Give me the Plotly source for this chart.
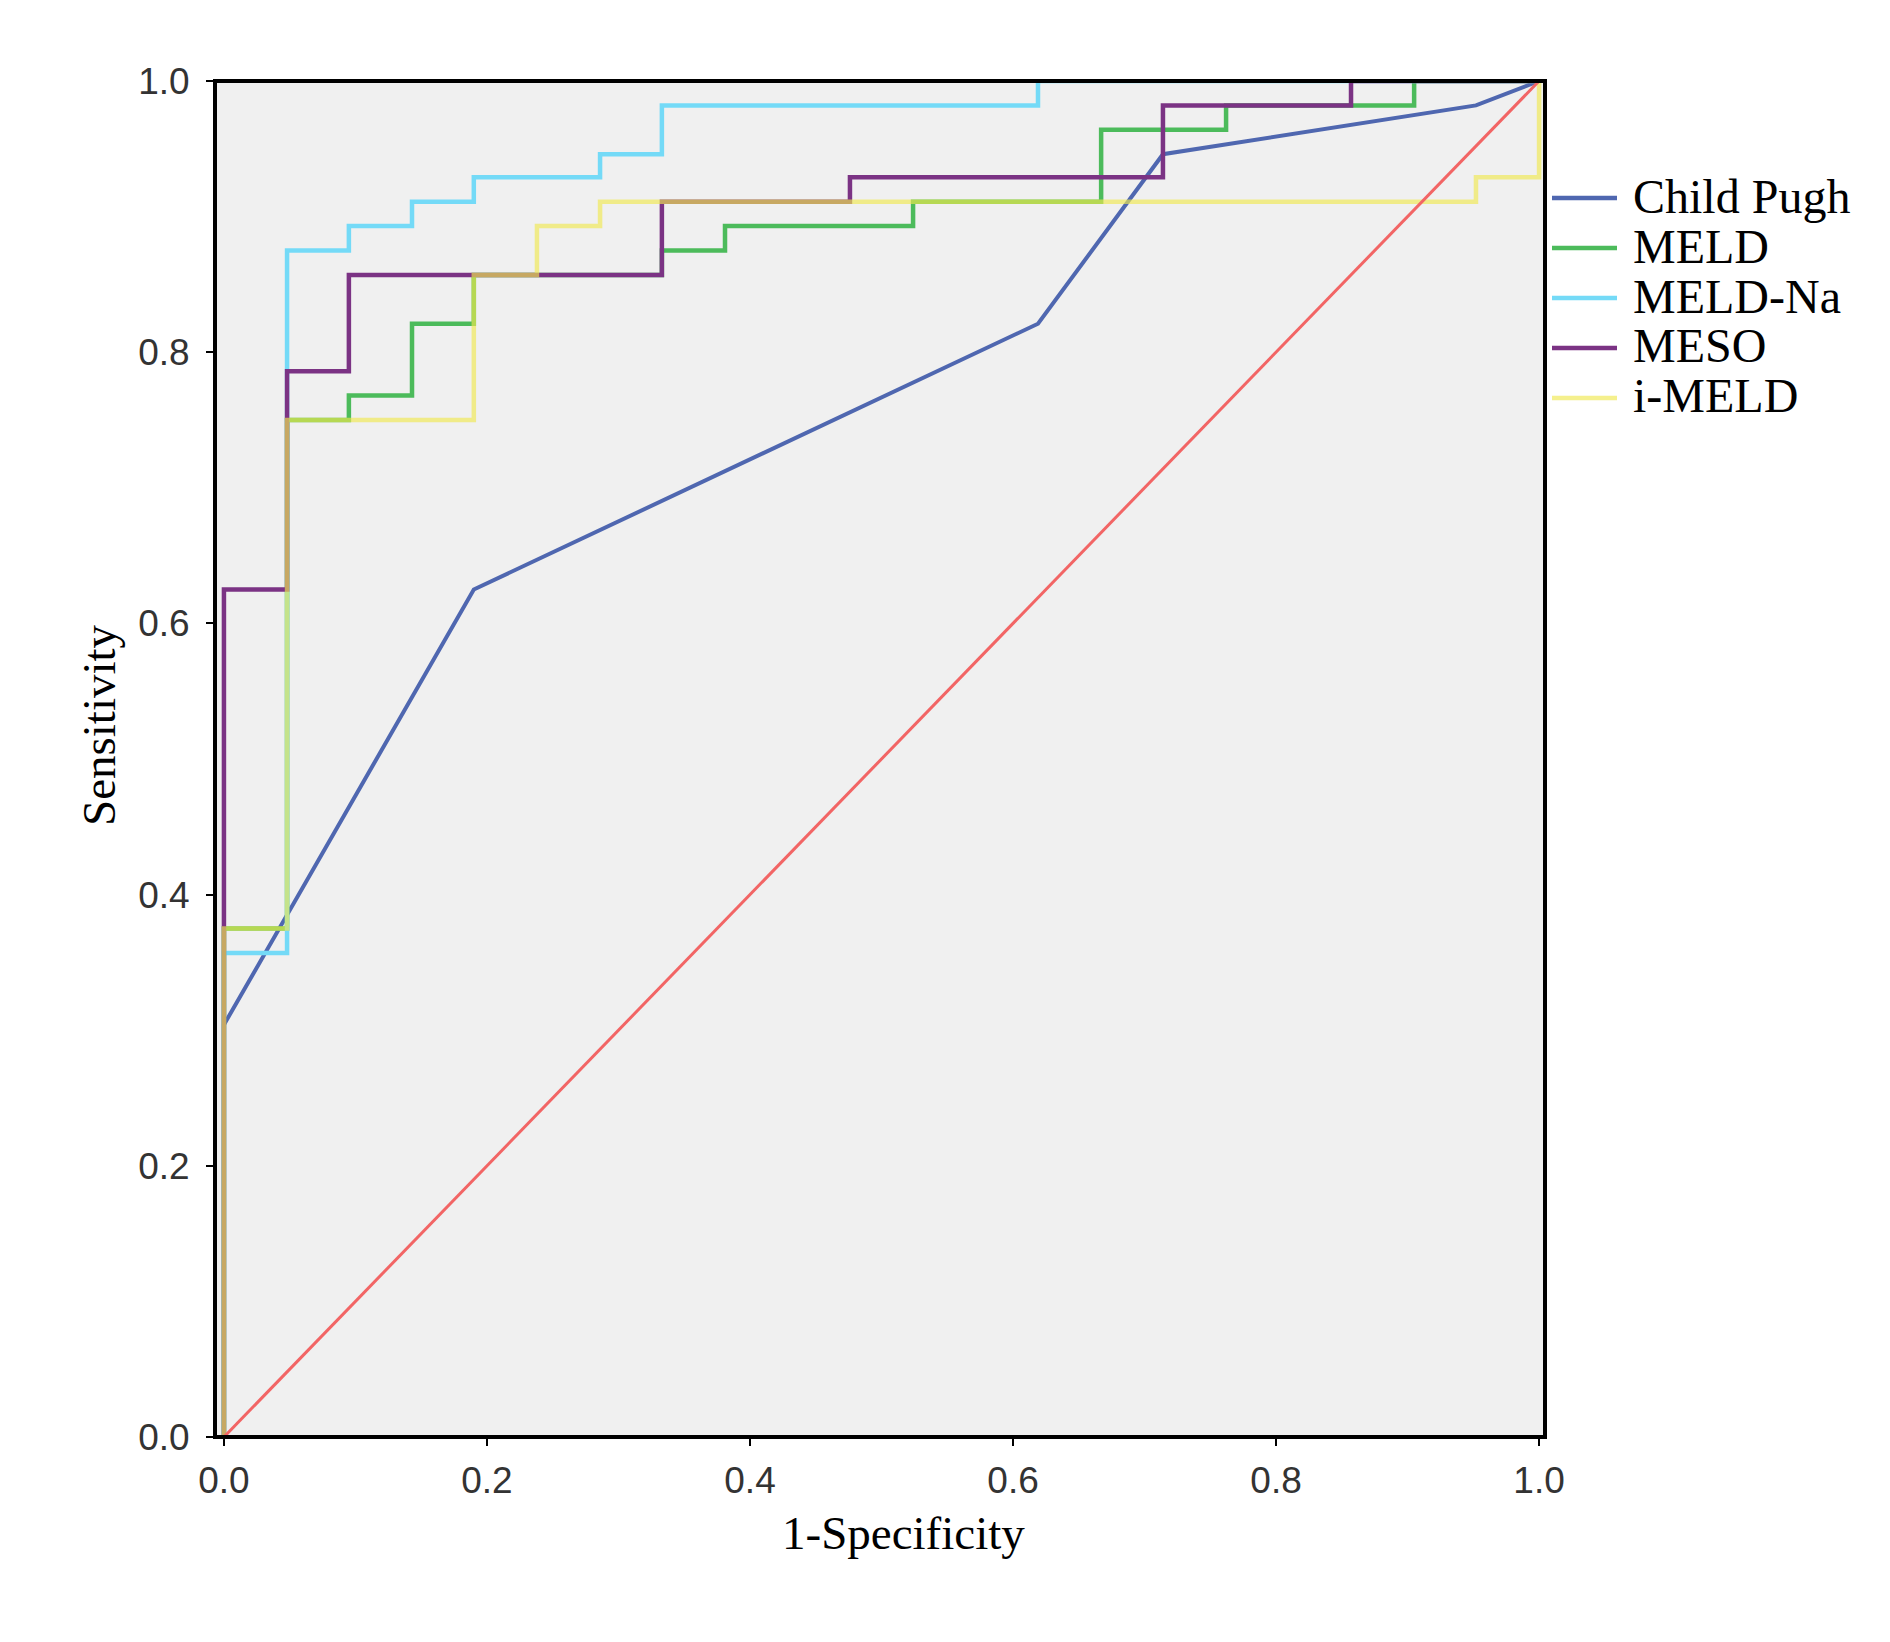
import plotly.graph_objects as go

# ROC curve points (1-Specificity, Sensitivity)
names = ["Child Pugh", "MELD", "MELD-Na", "MESO", "i-MELD"]
colors = ["#4F67B0", "#4CBB5B", "#74DAF7", "#7B3384", "rgba(240,232,80,0.65)"]

child_pugh_x = [0.0, 0.0, 0.190, 0.619, 0.714, 0.952, 1.0]
child_pugh_y = [0.0, 0.304, 0.625, 0.821, 0.946, 0.982, 1.0]

meld_x = [0.0, 0.0, 0.048, 0.095, 0.143, 0.190, 0.333, 0.381, 0.524, 0.667, 0.762, 0.905, 1.0]
meld_y = [0.0, 0.375, 0.750, 0.768, 0.821, 0.857, 0.875, 0.893, 0.911, 0.964, 0.982, 1.0, 1.0]

meld_na_x = [0.0, 0.0, 0.048, 0.095, 0.143, 0.190, 0.286, 0.333, 0.619, 1.0]
meld_na_y = [0.0, 0.357, 0.875, 0.893, 0.911, 0.929, 0.946, 0.982, 1.0, 1.0]

meso_x = [0.0, 0.0, 0.048, 0.095, 0.333, 0.476, 0.714, 0.857, 1.0]
meso_y = [0.0, 0.625, 0.786, 0.857, 0.911, 0.929, 0.982, 1.0, 1.0]

imeld_x = [0.0, 0.0, 0.048, 0.190, 0.238, 0.286, 0.952, 1.0]
imeld_y = [0.0, 0.375, 0.750, 0.857, 0.893, 0.911, 0.929, 1.0]

ref_x = [0.0, 1.0]
ref_y = [0.0, 1.0]

tick_vals = [0.0, 0.2, 0.4, 0.6, 0.8, 1.0]
tick_text = ["0.0", "0.2", "0.4", "0.6", "0.8", "1.0"]

# plot area in page pixels
L, R, T, B = 207, 1537, 73, 1429
W, H = 1890, 1642


def px_x(x):
    return (x - L) / (R - L)


def px_y(y):
    return (B - y) / (B - T)


curves = [
    (child_pugh_x, child_pugh_y, "linear", 4),
    (meld_x, meld_y, "hv", 4.5),
    (meld_na_x, meld_na_y, "hv", 4.5),
    (meso_x, meso_y, "hv", 4.5),
    (imeld_x, imeld_y, "hv", 4.5),
]

fig = go.Figure()

for (xs, ys, shape, lw), name, col in zip(curves, names, colors):
    fig.add_trace(go.Scatter(
        x=xs, y=ys, name=name, mode="lines",
        line=dict(color=col, width=lw, shape=shape),
    ))

fig.add_trace(go.Scatter(
    x=ref_x, y=ref_y, mode="lines", name="Reference",
    line=dict(color="#F26565", width=3),
))

serif = "Liberation Serif, Times New Roman, serif"
sans = "Liberation Sans, Arial, sans-serif"

axis_style = dict(
    tickvals=tick_vals,
    ticktext=tick_text,
    ticks="outside",
    ticklen=8,
    tickwidth=2,
    tickcolor="black",
    showline=False,
    showgrid=False,
    zeroline=False,
    tickfont=dict(family=sans, size=37, color="#333333"),
)

fig.update_xaxes(range=[-0.0068, 1.0045], ticklabelstandoff=3, **axis_style)
fig.update_yaxes(range=[0.0, 1.0], ticklabelstandoff=9, **axis_style)

annotations = [
    dict(text="1-Specificity", x=px_x(895), y=px_y(1525), xref="paper", yref="paper",
         xanchor="center", yanchor="middle", showarrow=False,
         font=dict(family=serif, size=47, color="black")),
    dict(text="Sensitivity", x=px_x(91), y=px_y(717), xref="paper", yref="paper",
         xanchor="center", yanchor="middle", showarrow=False, textangle=-90,
         font=dict(family=serif, size=47, color="black")),
]

# frame drawn over the curves so the segments at sensitivity 1.0 sit under it
shapes = [dict(
    type="rect", xref="paper", yref="paper", x0=0, x1=1, y0=0, y1=1,
    line=dict(color="black", width=4), layer="above",
)]

# legend drawn to the right of the plot
for i, (name, col) in enumerate(zip(names, colors)):
    row_y = 190 + 50 * i
    shapes.append(dict(
        type="line", xref="paper", yref="paper",
        x0=px_x(1544), x1=px_x(1609), y0=px_y(row_y), y1=px_y(row_y),
        line=dict(color=col, width=4.5),
    ))
    annotations.append(dict(
        text=name, x=px_x(1623), y=px_y(row_y - 2), xref="paper", yref="paper",
        xanchor="left", yanchor="middle", showarrow=False,
        font=dict(family=serif, size=48, color="black"),
    ))

fig.update_layout(
    width=W,
    height=H,
    margin=dict(l=L, r=W - R, t=T, b=H - B, autoexpand=False),
    plot_bgcolor="#F0F0F0",
    paper_bgcolor="white",
    showlegend=False,
    annotations=annotations,
    shapes=shapes,
)

fig.write_html("out.html")
